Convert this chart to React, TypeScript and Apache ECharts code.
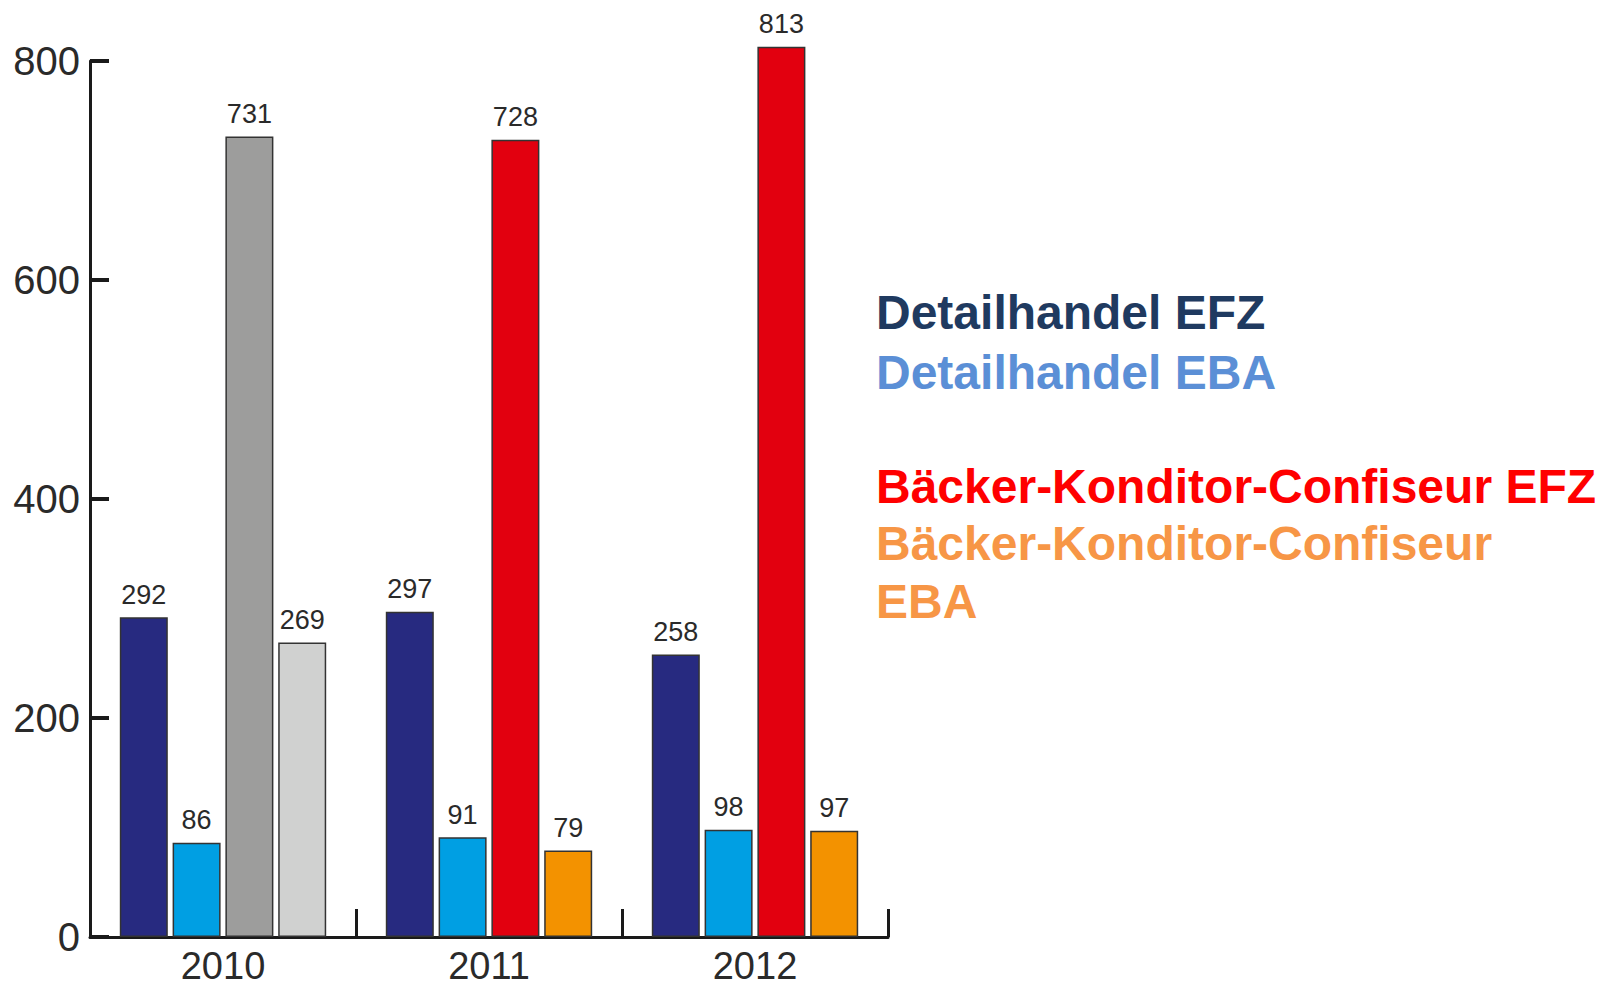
import React, { useEffect, useRef } from "react";
import * as echarts from "echarts";

const categories = ["2010", "2011", "2012"];
const seriesNames = [
  "Detailhandel EFZ",
  "Detailhandel EBA",
  "Bäcker-Konditor-Confiseur EFZ",
  "Bäcker-Konditor-Confiseur EBA",
];
const detailhandelEFZ = [292, 297, 258];
const detailhandelEBA = [86, 91, 98];
const baeckerEFZ = [731, 728, 813];
const baeckerEBA = [269, 79, 97];
const legendLines = [
  "Detailhandel EFZ",
  "Detailhandel EBA",
  "Bäcker-Konditor-Confiseur EFZ",
  "Bäcker-Konditor-Confiseur",
  "EBA",
];

const barColors = [
  ["#272a80", "#272a80", "#272a80"],
  ["#009fe3", "#009fe3", "#009fe3"],
  ["#9d9d9c", "#e2000f", "#e2000f"],
  ["#d0d1d0", "#f39200", "#f39200"],
];
const legendColors = ["#1f3a60", "#5b8fd6", "#ff0000", "#f79646", "#f79646"];
const legendY = [312, 372, 486, 543, 601];

export default function App() {
  const ref = useRef<HTMLDivElement>(null);
  useEffect(() => {
    if (!ref.current) return;
    const chart = echarts.init(ref.current, null, { renderer: "svg" });
    const values = [detailhandelEFZ, detailhandelEBA, baeckerEFZ, baeckerEBA];
    const axisFont = "'Liberation Sans', Arial, sans-serif";
    chart.setOption({
      animation: false,
      backgroundColor: "#ffffff",
      grid: { left: 90, top: 61, right: 725, bottom: 51, containLabel: false },
      xAxis: {
        type: "category",
        data: categories,
        axisLine: { show: true, lineStyle: { color: "#1a1a1a", width: 3 } },
        axisTick: { show: true, inside: true, length: 28, lineStyle: { color: "#1a1a1a", width: 3 } },
        axisLabel: { fontSize: 38, color: "#2a2a2a", fontFamily: axisFont, margin: 10 },
        splitLine: { show: false },
      },
      yAxis: {
        type: "value",
        min: 0,
        max: 800,
        interval: 200,
        axisLine: { show: true, lineStyle: { color: "#1a1a1a", width: 3 } },
        axisTick: { show: true, inside: true, length: 19, lineStyle: { color: "#1a1a1a", width: 4 } },
        axisLabel: { fontSize: 40, color: "#2a2a2a", fontFamily: axisFont, margin: 10 },
        splitLine: { show: false },
      },
      series: values.map((vals, si) => ({
        type: "bar",
        name: seriesNames[si],
        barWidth: 48,
        barGap: "10%",
        clip: false,
        data: vals.map((v, ci) => ({
          value: v,
          itemStyle: { color: barColors[si][ci] },
        })),
        itemStyle: { borderColor: "#333", borderWidth: 1.5 },
        label: {
          show: true,
          position: "top",
          distance: 9,
          fontSize: 27,
          color: "#2a2a2a",
          fontFamily: axisFont,
        },
      })),
      graphic: legendLines.map((t, i) => ({
        type: "text",
        x: 876,
        y: legendY[i],
        style: {
          text: t,
          x: 0,
          y: 0,
          fill: legendColors[i],
          font: "bold 48px 'Liberation Sans', Arial, sans-serif",
          verticalAlign: "middle",
          align: "left",
        },
      })),
    });
    return () => chart.dispose();
  }, []);
  return (
    <div
      ref={ref}
      style={{ position: "fixed", left: 0, top: 0, width: 1613, height: 988, background: "#fff" }}
    />
  );
}
